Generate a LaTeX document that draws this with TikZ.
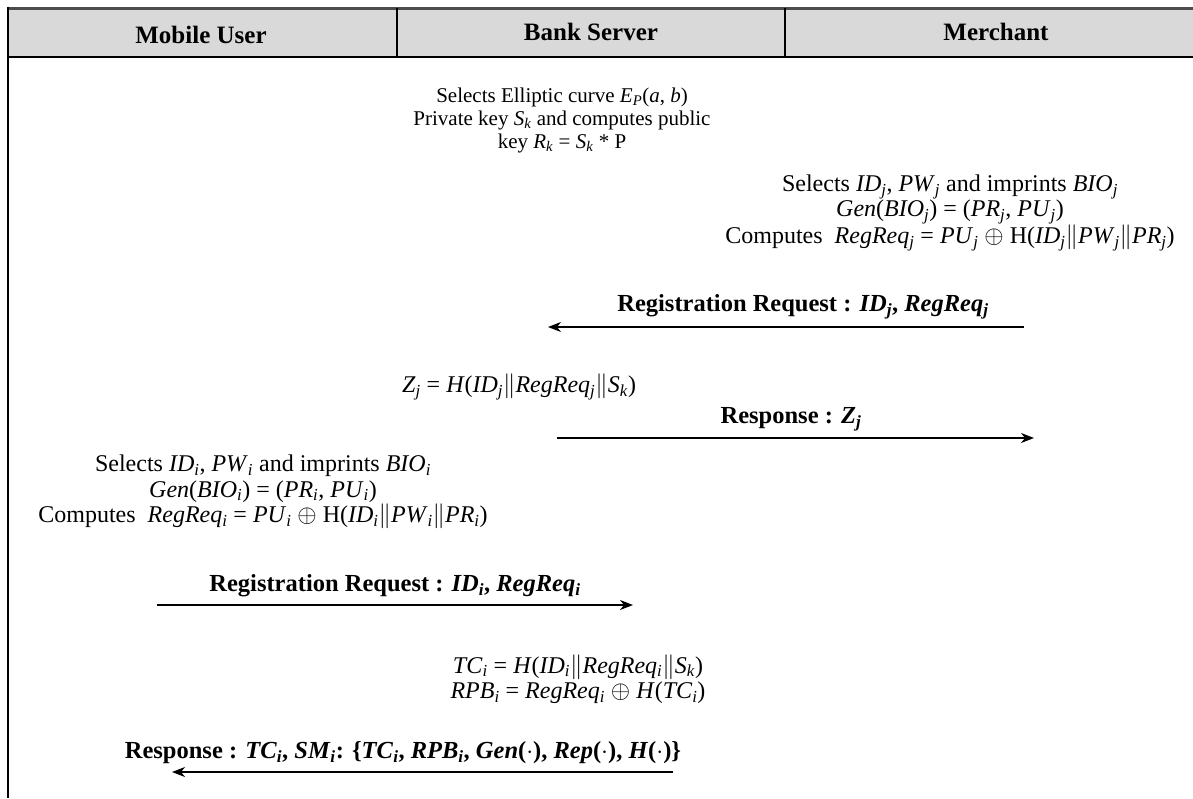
\documentclass[tikz,border=0pt]{standalone}
\usetikzlibrary{arrows.meta}
\usepackage{fontspec}
\setmainfont{Liberation Serif}
\newcommand{\iv}[2]{\textit{#1}\textsubscript{\textit{#2}}}
\newcommand{\cc}{$\|$}

\begin{document}
\begin{tikzpicture}[x=1pt, y=-1pt,
    txt/.style={inner sep=0pt, align=center, font=\fontsize{24}{25.5}\selectfont},
    lbl/.style={inner sep=0pt, font=\fontsize{24.5}{26}\selectfont\bfseries},
    head/.style={inner sep=0pt, font=\fontsize{25}{27}\selectfont\bfseries},
    msg/.style={-{Stealth[length=13pt, width=10pt, inset=4pt]}, line width=1.5pt}]
                        \useasboundingbox (0,0) rectangle (1193,798);
                        % header row
                        \fill[gray!30] (8,8) rectangle (1193,57);
                        \draw[line width=3pt, black!70] (8,8) -- (1193,8);
                        \draw[line width=2.5pt] (8,57) -- (1193,57);
                        \draw[line width=2.5pt] (8,6.5) -- (8,798);
                        \draw[line width=1.5pt] (397,8) -- (397,57);
                        \draw[line width=1.5pt] (785,8) -- (785,57);
                        \node[head] (user) at (201,35) {Mobile User};
                        \node[head] (bank) at (591,32) {Bank Server};
                        \node[head] (merchant) at (996,32) {Merchant};
                        % bank setup
                        \node[txt, font=\fontsize{21}{23}\selectfont] (setup) at (562,120) {Selects Elliptic curve \iv{E}{P}(\textit{a}, \textit{b})\\ Private key \iv{S}{k} and computes public\\ key \iv{R}{k} = \iv{S}{k} * P};
                        % merchant registration
                        \node[txt] (mreg) at (950,213) {Selects \iv{ID}{j}, \iv{PW}{j} and imprints \iv{BIO}{j}\\ \textit{Gen}(\iv{BIO}{j}) = (\iv{PR}{j}, \iv{PU}{j})\\ Computes~ \iv{RegReq}{j} = \iv{PU}{j} $\oplus$ H(\iv{ID}{j}\cc\iv{PW}{j}\cc\iv{PR}{j})};
                        \node[lbl] (mreq) at (803,307) {Registration Request : \iv{ID}{j}, \iv{RegReq}{j}};
                        \coordinate (mreqs) at (1024,327);
                        \coordinate (mreqe) at (548,327);
                        \draw[msg] (mreqs) -- (mreqe);
                        \node[txt] (zj) at (519,387) {\iv{Z}{j} = \textit{H}(\iv{ID}{j}\cc\iv{RegReq}{j}\cc\iv{S}{k})};
                        \node[lbl] (mresp) at (791,419) {Response : \iv{Z}{j}};
                        \coordinate (mresps) at (557,438);
                        \coordinate (mrespe) at (1034,438);
                        \draw[msg] (mresps) -- (mrespe);
                        % user registration
                        \node[txt] (ureg) at (263,492) {Selects \iv{ID}{i}, \iv{PW}{i} and imprints \iv{BIO}{i}\\ \textit{Gen}(\iv{BIO}{i}) = (\iv{PR}{i}, \iv{PU}{i})\\ Computes~ \iv{RegReq}{i} = \iv{PU}{i} $\oplus$ H(\iv{ID}{i}\cc\iv{PW}{i}\cc\iv{PR}{i})};
                        \node[lbl] (ureq) at (395,586) {Registration Request : \iv{ID}{i}, \iv{RegReq}{i}};
                        \coordinate (ureqs) at (157,605);
                        \coordinate (ureqe) at (633,605);
                        \draw[msg] (ureqs) -- (ureqe);
                        \node[txt] (tci) at (578,679) {\iv{TC}{i} = \textit{H}(\iv{ID}{i}\cc\iv{RegReq}{i}\cc\iv{S}{k})\\ \iv{RPB}{i} = \iv{RegReq}{i} $\oplus$ \textit{H}(\iv{TC}{i})};
                        \node[lbl] (uresp) at (403,753) {Response : \iv{TC}{i}, \iv{SM}{i}: \{\iv{TC}{i}, \iv{RPB}{i}, \textit{Gen}($\cdot$), \textit{Rep}($\cdot$), \textit{H}($\cdot$)\}};
                        \coordinate (uresps) at (673,772);
                        \coordinate (urespe) at (172,772);
                        \draw[msg] (uresps) -- (urespe);
                \end{tikzpicture}
\end{document}
